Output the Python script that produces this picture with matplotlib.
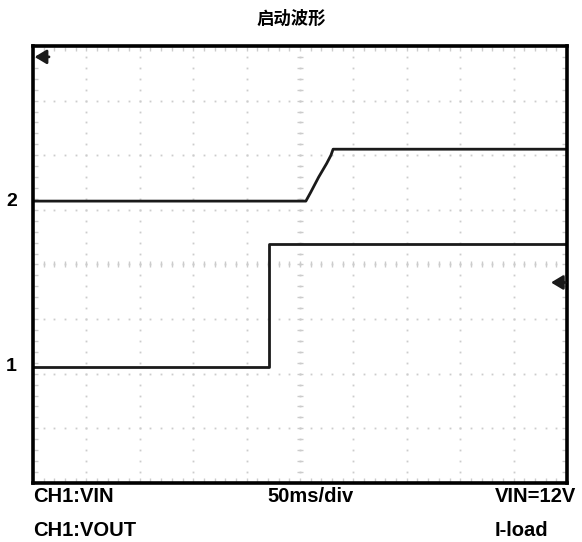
import numpy as np
from matplotlib import pyplot as plt

plt.rcParams['font.family'] = ['Liberation Sans', 'Noto Sans CJK SC', 'DejaVu Sans']

# scope screen: 10 x 8 divisions
n_xdiv = 10
n_ydiv = 8

# CH2 trace (upper), in divisions
ch2_x = [0.0, 5.11, 5.2, 5.35, 5.5, 5.58, 5.62, 10.0]
ch2_y = [5.16, 5.16, 5.32, 5.6, 5.85, 6.0, 6.11, 6.11]

# CH1 trace (lower)
ch1_x = [0.0, 4.42, 4.42, 10.0]
ch1_y = [2.13, 2.13, 4.37, 4.37]

ch_labels = ['2', '1']
ch_levels = [5.16, 2.13]

title = '启动波形'
bottom_left = ['CH1:VIN', 'CH1:VOUT']
bottom_mid = '50ms/div'
bottom_right = ['VIN=12V', 'I-load']

fig = plt.figure(figsize=(5.82, 5.42), dpi=100)
ax = fig.add_axes([0.0567, 0.1089, 0.9175, 0.8063])
ax.set_xlim(0, n_xdiv)
ax.set_ylim(0, n_ydiv)
ax.set_xticks([])
ax.set_yticks([])
for s in ax.spines.values():
    s.set_linewidth(2.6)
    s.set_color('black')

# graticule dots
gcol = '#cccccc'
fine_x = np.arange(0, n_xdiv + 0.01, 0.2)
fine_y = np.arange(0, n_ydiv + 0.01, 0.2)
for gy in range(1, n_ydiv):
    ax.plot(fine_x, np.full_like(fine_x, gy), ls='none', marker='s', ms=1.3, color=gcol, mew=0)
for gx in range(1, n_xdiv):
    ax.plot(np.full_like(fine_y, gx), fine_y, ls='none', marker='s', ms=1.3, color=gcol, mew=0)
# center cross ticks and edge ticks
ax.plot(fine_x, np.full_like(fine_x, n_ydiv / 2), ls='none', marker='|', ms=4, color=gcol, mew=1)
ax.plot(np.full_like(fine_y, n_xdiv / 2), fine_y, ls='none', marker='_', ms=4, color=gcol, mew=1)
for ex in [0.06, n_xdiv - 0.06]:
    ax.plot(np.full_like(fine_y, ex), fine_y, ls='none', marker='_', ms=3, color=gcol, mew=1)
for ey in [0.05, n_ydiv - 0.05]:
    ax.plot(fine_x, np.full_like(fine_x, ey), ls='none', marker='|', ms=3, color=gcol, mew=1)

# traces
ax.plot(ch2_x, ch2_y, color='#1a1a1a', lw=2.0)
ax.plot(ch1_x, ch1_y, color='#1a1a1a', lw=2.0)

# trigger markers
arrow = dict(arrowstyle='-|>,head_length=0.5,head_width=0.3', color='#1a1a1a',
             lw=2.0, mutation_scale=14, shrinkA=0, shrinkB=0)
ax.annotate('', xy=(0.03, 7.8), xytext=(0.3, 7.8), arrowprops=arrow)
ax.annotate('', xy=(9.7, 3.67), xytext=(9.97, 3.67), arrowprops=arrow)

# channel labels
for lab, lev in zip(ch_labels, ch_levels):
    ax.text(-0.4, lev, lab, ha='center', va='center', fontsize=14, fontweight='bold')

fig.text(0.5, 0.965, title, ha='center', va='center', fontsize=12.5, fontweight='bold',
         family=['Noto Sans CJK SC', 'DejaVu Sans'])

fs = 14.5
fig.text(33 / 582, 1 - 497 / 542, bottom_left[0], ha='left', va='center', fontsize=fs, fontweight='bold')
fig.text(33 / 582, 1 - 530 / 542, bottom_left[1], ha='left', va='center', fontsize=fs, fontweight='bold')
fig.text(311 / 582, 1 - 497 / 542, bottom_mid, ha='center', va='center', fontsize=fs, fontweight='bold')
fig.text(495 / 582, 1 - 497 / 542, bottom_right[0], ha='left', va='center', fontsize=fs, fontweight='bold')
fig.text(495 / 582, 1 - 530 / 542, bottom_right[1], ha='left', va='center', fontsize=fs, fontweight='bold')

fig.savefig('out.png', dpi=100)
